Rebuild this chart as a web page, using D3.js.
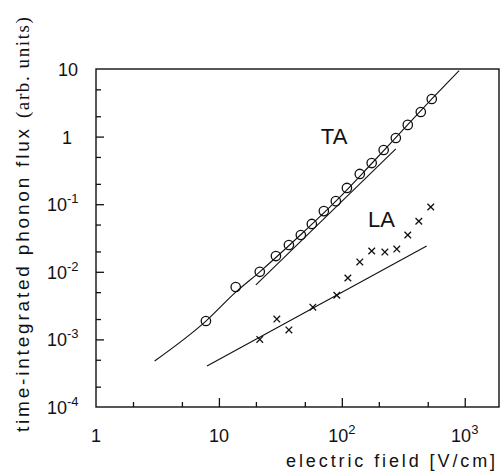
<!DOCTYPE html>
<html><head><meta charset="utf-8">
<script src="https://cdn.jsdelivr.net/npm/d3@7"></script>
<style>
html,body{margin:0;padding:0;background:#fff;}
svg text{font-family:"Liberation Sans",Arial,Helvetica,sans-serif;fill:#111;}
</style></head>
<body><svg id="c" width="502" height="475"></svg>
<script>
// ---- data ----
const taField = [7.84, 13.7, 21.5, 29.1, 37.1, 46.4, 57.0, 71.4, 89.4, 110, 140, 175, 219, 275, 344, 439, 539];
const taFlux  = [1.87e-3, 5.96e-3, 1.0e-2, 1.71e-2, 2.49e-2, 3.5e-2, 5.1e-2, 7.9e-2, 0.111, 0.174, 0.28, 0.406, 0.634, 0.953, 1.49, 2.31, 3.6];
const laField = [21.5, 29.6, 37.1, 58.1, 91, 112, 140, 175, 224, 280, 344, 423, 529];
const laFlux  = [1.0e-3, 2.0e-3, 1.38e-3, 3.0e-3, 4.5e-3, 8.1e-3, 1.4e-2, 2.03e-2, 1.96e-2, 2.17e-2, 3.5e-2, 5.6e-2, 9.1e-2];
const taFitField = [3, 7.8, 13.7, 21.5, 46, 89, 175, 344, 540, 900];
const taFitFlux  = [4.8e-4, 1.85e-3, 5.0e-3, 1.0e-2, 3.5e-2, 0.11, 0.40, 1.5, 3.6, 9.5];
const taFit2Field = [20, 275];
const taFit2Flux  = [6.4e-3, 0.656];
const laFitField = [8, 490];
const laFitFlux  = [4.05e-4, 0.024];
const xMajor = [1, 10, 100, 1000];
const xMajorLabels = [["1",""],["10",""],["10","2"],["10","3"]];
const xMinor = [2, 5, 20, 50, 200, 500];
const yMajor = [10, 1, 0.1, 0.01, 0.001, 0.0001];
const yMajorLabels = [["10",""],["1",""],["10","-1"],["10","-2"],["10","-3"],["10","-4"]];
const yMinor = [5, 2, 0.5, 0.2, 0.05, 0.02, 0.005, 0.002, 0.0005, 0.0002];
const seriesLabels = [{text: "TA", field: 67.5, flux: 0.78}, {text: "LA", field: 163, flux: 0.046}];

// ---- layout ----
const L = 96, R = 499, T = 69, B = 407;
const svg = d3.select("#c");
const x = d3.scaleLog().domain([1, 1900]).range([L, R]);
const y = d3.scaleLog().domain([1e-4, 10]).range([B, T]);

// frame
svg.append("rect").attr("x", L).attr("y", T).attr("width", R - L).attr("height", B - T)
  .attr("fill", "none").attr("stroke", "#111").attr("stroke-width", 1.4);

// axes ticks (inside)
const gx = svg.append("g").attr("transform", `translate(0,${B})`);
gx.call(d3.axisBottom(x).tickValues(xMajor.slice(1)).tickSize(-9).tickFormat(""));
const gx2 = svg.append("g").attr("transform", `translate(0,${B})`);
gx2.call(d3.axisBottom(x).tickValues(xMinor).tickSize(-5).tickFormat(""));
const gy = svg.append("g").attr("transform", `translate(${L},0)`);
gy.call(d3.axisLeft(y).tickValues(yMajor.slice(1, 5)).tickSize(-8).tickFormat(""));
const gy2 = svg.append("g").attr("transform", `translate(${L},0)`);
gy2.call(d3.axisLeft(y).tickValues(yMinor).tickSize(-5).tickFormat(""));
svg.selectAll(".domain").remove();
svg.selectAll(".tick line").attr("stroke", "#111").attr("stroke-width", 1.3);

// x tick labels
xMajor.forEach((v, i) => {
  const t = svg.append("text").attr("x", x(v)).attr("y", 442)
    .attr("text-anchor", "middle").attr("font-size", 18);
  t.append("tspan").text(xMajorLabels[i][0]);
  if (xMajorLabels[i][1]) t.append("tspan").attr("dy", -8).attr("font-size", 13).text(xMajorLabels[i][1]);
});
// y tick labels
yMajor.forEach((v, i) => {
  const lab = yMajorLabels[i];
  let t;
  if (lab[1]) {
    t = svg.append("text").attr("x", 47).attr("y", y(v) + 7).attr("font-size", 18);
    t.append("tspan").text(lab[0]);
    t.append("tspan").attr("dy", -8).attr("font-size", 13).text(lab[1]);
  } else {
    t = svg.append("text").attr("x", lab[0] === "1" ? 72 : 78).attr("y", y(v) + 7)
      .attr("text-anchor", "end").attr("font-size", 18).text(lab[0]);
  }
});

// axis titles
svg.append("text").attr("x", 498).attr("y", 467).attr("text-anchor", "end")
  .attr("font-size", 18).attr("letter-spacing", 2.9).text("electric field [V/cm]");
const yt = svg.append("text").attr("transform", "translate(29,432) rotate(-90)")
  .attr("font-size", 19).attr("letter-spacing", 2.8);
yt.append("tspan").text("time-integrated phonon flux ");
yt.append("tspan").attr("font-family", "'Liberation Serif','Times New Roman',serif").attr("letter-spacing", 1.6).text("(arb. units)");

// fit lines
const line = d3.line().x(d => x(d[0])).y(d => y(d[1]));
const lineSmooth = d3.line().x(d => x(d[0])).y(d => y(d[1])).curve(d3.curveMonotoneX);
svg.append("path").datum(taFitField.map((f, i) => [f, taFitFlux[i]]))
  .attr("d", lineSmooth).attr("fill", "none").attr("stroke", "#111").attr("stroke-width", 1.1);
svg.append("path").datum(taFit2Field.map((f, i) => [f, taFit2Flux[i]]))
  .attr("d", line).attr("fill", "none").attr("stroke", "#111").attr("stroke-width", 1.1);
svg.append("path").datum(laFitField.map((f, i) => [f, laFitFlux[i]]))
  .attr("d", line).attr("fill", "none").attr("stroke", "#111").attr("stroke-width", 1.1);

// TA circles
svg.append("g").selectAll("circle").data(taField.map((f, i) => [f, taFlux[i]])).join("circle")
  .attr("cx", d => x(d[0])).attr("cy", d => y(d[1])).attr("r", 4.7)
  .attr("fill", "none").attr("stroke", "#111").attr("stroke-width", 1.3);

// LA crosses
const cs = 3.3;
svg.append("g").selectAll("path").data(laField.map((f, i) => [f, laFlux[i]])).join("path")
  .attr("d", d => { const cx = x(d[0]), cy = y(d[1]);
    return `M${cx-cs},${cy-cs}L${cx+cs},${cy+cs}M${cx-cs},${cy+cs}L${cx+cs},${cy-cs}`; })
  .attr("stroke", "#111").attr("stroke-width", 1.3);

// series labels
seriesLabels.forEach(s => {
  svg.append("text").attr("x", x(s.field)).attr("y", y(s.flux)).attr("font-size", 22).text(s.text);
});
</script></body></html>
